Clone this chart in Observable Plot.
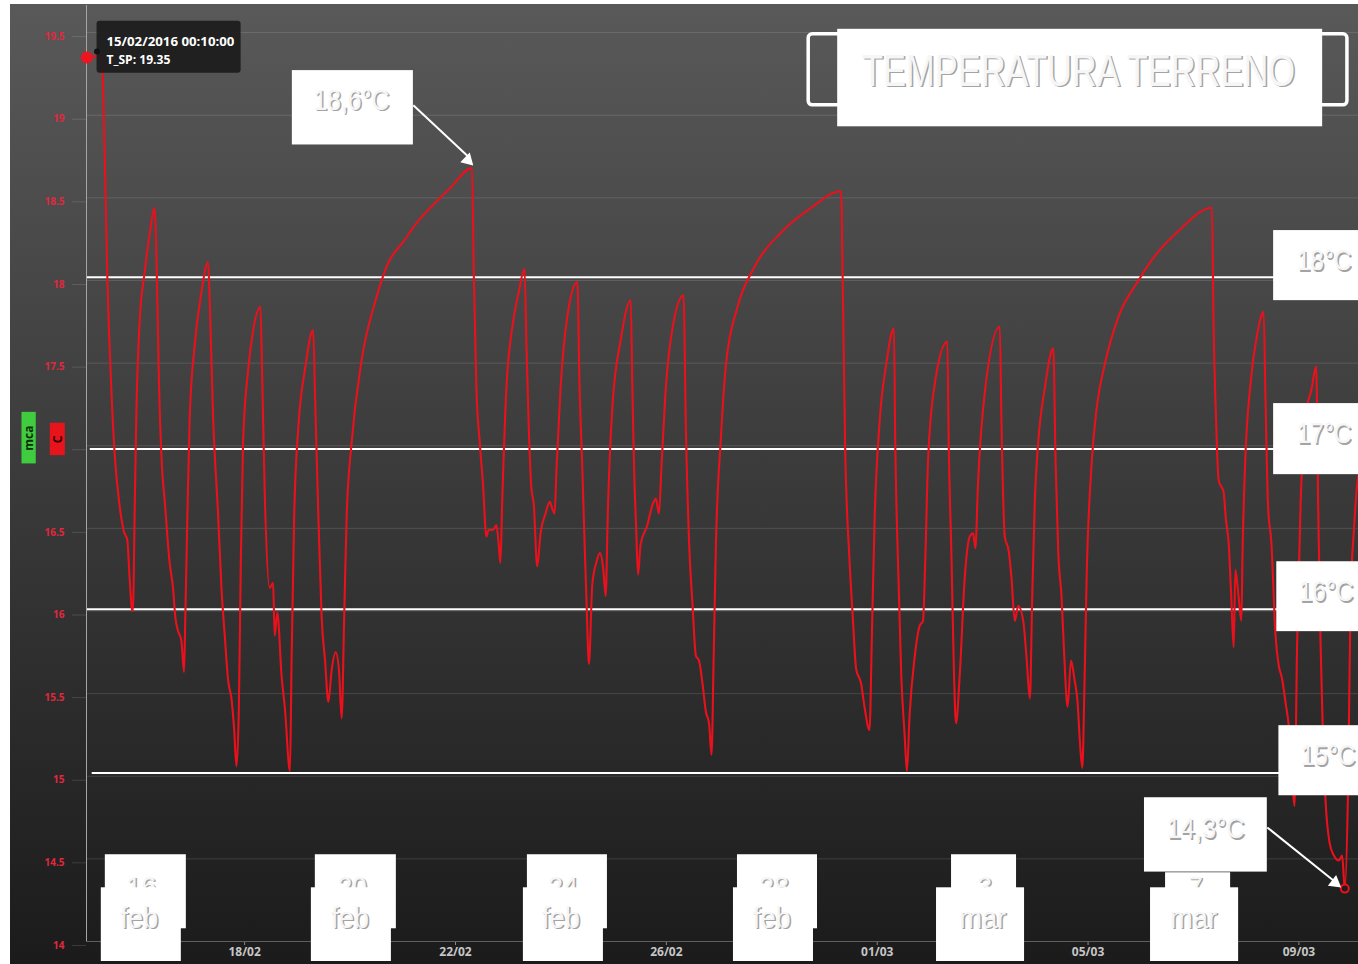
<!DOCTYPE html>
<html>
<head>
<meta charset="utf-8">
<script src="https://cdn.jsdelivr.net/npm/d3@7"></script>
<script src="https://cdn.jsdelivr.net/npm/@observablehq/plot@0.6"></script>
<style>
  body { margin: 0; background: #fff; }
  svg { display: block; }
</style>
</head>
<body>
<div id="chart"></div>
<script>
// ---------- data (day offset from 15/02/2016 00:00 UTC, °C) ----------
const startDate = "2016-02-15";
const endOffset = 24.13;
const readings = [
  [0.0069,19.35],[0.30,19.36],[0.31,19.22],[0.355,18.63],[0.393,18.05],[0.456,17.46],[0.532,16.96],
  [0.627,16.64],[0.71,16.48],[0.773,16.43],[0.818,16.20],[0.862,16.01],[0.88,16.00],[0.913,16.58],
  [0.944,17.17],[1.008,17.75],[1.103,18.05],[1.198,18.28],[1.293,18.44],[1.324,18.19],[1.369,17.46],
  [1.432,16.87],[1.483,16.67],[1.578,16.29],[1.641,16.14],[1.686,15.96],[1.736,15.88],[1.80,15.82],
  [1.85,15.63],[1.876,15.99],[1.914,16.58],[1.958,17.17],[2.053,17.61],[2.18,17.93],[2.307,18.11],
  [2.338,17.87],[2.402,17.17],[2.497,16.58],[2.56,16.14],[2.623,15.85],[2.687,15.58],[2.75,15.47],
  [2.80,15.29],[2.845,15.06],[2.89,15.41],[2.927,16.29],[2.97,17.02],[3.067,17.46],[3.162,17.70],
  [3.30,17.84],[3.33,17.46],[3.38,16.73],[3.475,16.14],[3.54,16.17],[3.57,15.85],[3.62,15.99],
  [3.70,15.61],[3.764,15.41],[3.86,15.03],[3.89,15.70],[3.94,16.58],[4.018,17.11],[4.144,17.46],
  [4.30,17.70],[4.335,17.31],[4.398,16.58],[4.461,15.96],[4.525,15.70],[4.588,15.45],[4.65,15.64],
  [4.727,15.75],[4.79,15.64],[4.84,15.35],[4.89,15.99],[4.936,16.58],[5.03,17.02],[5.22,17.52],
  [5.475,17.87],[5.73,18.11],[6.0,18.23],[6.268,18.35],[6.585,18.46],[6.90,18.56],[7.313,18.68],
  [7.345,18.07],[7.396,17.35],[7.46,17.02],[7.523,16.76],[7.586,16.45],[7.63,16.49],[7.713,16.49],
  [7.776,16.52],[7.82,16.40],[7.852,16.29],[7.884,16.64],[7.966,17.35],[8.074,17.71],[8.20,17.93],
  [8.31,18.07],[8.347,17.59],[8.39,17.11],[8.435,16.76],[8.486,16.64],[8.55,16.27],[8.613,16.47],
  [8.708,16.59],[8.79,16.66],[8.835,16.62],[8.88,16.59],[8.917,16.87],[8.993,17.35],[9.12,17.78],
  [9.31,17.99],[9.354,17.35],[9.405,16.87],[9.45,16.40],[9.487,16.04],[9.531,15.68],[9.595,16.16],
  [9.677,16.30],[9.74,16.35],[9.804,16.25],[9.848,16.09],[9.893,16.64],[9.975,17.23],[10.134,17.64],
  [10.324,17.88],[10.355,17.35],[10.387,16.87],[10.425,16.52],[10.463,16.22],[10.51,16.40],[10.64,16.52],
  [10.735,16.64],[10.80,16.68],[10.86,16.59],[10.907,16.87],[10.99,17.35],[11.116,17.71],[11.325,17.91],
  [11.37,17.11],[11.433,16.40],[11.496,16.04],[11.56,15.73],[11.62,15.70],[11.686,15.56],[11.75,15.39],
  [11.81,15.32],[11.857,15.13],[11.895,15.68],[11.94,16.40],[12.035,17.05],[12.13,17.49],[12.35,17.84],
  [12.668,18.08],[13.175,18.29],[13.745,18.44],[14.315,18.54],[14.347,17.96],[14.39,17.02],[14.474,16.31],
  [14.537,15.96],[14.60,15.65],[14.695,15.56],[14.759,15.42],[14.854,15.28],[14.898,15.84],[14.95,16.55],
  [15.044,17.14],[15.17,17.49],[15.317,17.71],[15.342,17.02],[15.393,16.31],[15.456,15.61],[15.52,15.25],
  [15.564,15.03],[15.614,15.37],[15.71,15.72],[15.805,15.91],[15.868,15.94],[15.912,16.31],[15.963,16.90],
  [16.09,17.37],[16.33,17.63],[16.356,17.02],[16.41,16.31],[16.457,15.61],[16.495,15.32],[16.565,15.61],
  [16.66,16.20],[16.755,16.45],[16.82,16.47],[16.862,16.38],[16.913,16.78],[17.04,17.32],[17.325,17.72],
  [17.357,17.14],[17.42,16.45],[17.496,16.36],[17.547,16.20],[17.61,15.94],[17.674,16.03],[17.77,15.94],
  [17.832,15.72],[17.896,15.47],[17.94,16.08],[17.99,16.67],[18.054,17.02],[18.18,17.35],[18.34,17.59],
  [18.384,16.90],[18.435,16.35],[18.498,16.08],[18.549,15.72],[18.612,15.42],[18.676,15.70],[18.74,15.59],
  [18.80,15.45],[18.847,15.20],[18.891,15.05],[18.93,15.53],[18.974,16.22],[19.069,16.90],[19.164,17.23],
  [19.322,17.50],[19.575,17.78],[19.956,18.00],[20.27,18.15],[20.716,18.30],[21.35,18.44],[21.381,17.72],
  [21.426,17.18],[21.477,16.79],[21.57,16.72],[21.616,16.55],[21.667,16.41],[21.717,16.08],[21.762,15.78],
  [21.794,16.25],[21.857,16.08],[21.908,15.94],[21.93,16.35],[21.98,16.90],[22.08,17.37],[22.205,17.67],
  [22.33,17.81],[22.364,17.31],[22.415,16.63],[22.478,16.41],[22.554,15.86],[22.617,15.67],[22.68,15.59],
  [22.744,15.45],[22.82,15.26],[22.87,14.99],[22.915,14.82],[22.966,15.81],[23.03,16.63],[23.124,17.18],
  [23.238,17.34],[23.327,17.48],[23.365,16.63],[23.41,15.81],[23.454,15.26],[23.505,14.85],[23.58,14.60],
  [23.663,14.52],[23.758,14.49],[23.82,14.52],[23.87,14.32],[23.935,14.99],[23.98,16.08],[24.043,16.49],
  [24.107,16.77],[24.13,16.82]
];
const seriesName = "T_SP";
const yTicks = [14, 14.5, 15, 15.5, 16, 16.5, 17, 17.5, 18, 18.5, 19, 19.5];
const xTicks = ["2016-02-18", "2016-02-22", "2016-02-26", "2016-03-01", "2016-03-05", "2016-03-09"];

// threshold guide lines and their labels
const thresholdLabels = ["18°C", "17°C", "16°C", "15°C"];
const thresholdLevels = [18.02, 16.98, 16.01, 15.02];
const thresholdStart = [0.017, 0.072, 0.017, 0.108];

// overlay date labels
const overlayDates = ["2016-02-16", "2016-02-20", "2016-02-24", "2016-02-28", "2016-03-03", "2016-03-07"];
const overlayDay = ["16", "20", "24", "28", "3", "7"];
const overlayMonth = ["feb", "feb", "feb", "feb", "mar", "mar"];

// callouts
const titleText = "TEMPERATURA TERRENO";
const maxLabel = "18,6°C";
const minLabel = "14,3°C";

// ---------- annotation placement (day offset, °C) ----------
const titleOutline = [13.70, 23.92, 19.06, 19.49];
const whiteBoxes = [
  [14.25, 23.45, 18.93, 19.52],   // title
  [3.905, 6.201, 18.82, 19.27],   // 18,6
  [20.07, 22.40, 14.42, 14.87],   // 14,3
  [22.52, endOffset, 17.878, 18.302],
  [22.52, endOffset, 16.825, 17.255],
  [22.58, endOffset, 15.875, 16.298],
  [22.62, endOffset, 14.882, 15.306]
];
const upperDateBoxes = [
  [0.357, 1.894, 14.077, 14.525], [4.341, 5.878, 14.077, 14.525], [8.364, 9.882, 14.077, 14.525],
  [12.349, 13.867, 14.077, 14.525], [16.410, 17.643, 14.077, 14.525], [20.470, 21.704, 14.077, 14.416]
];
const lowerDateBoxes = [
  [0.281, 1.799], [4.266, 5.784], [8.288, 9.806], [12.273, 13.791], [16.125, 17.795], [20.185, 21.856]
];
const lowerBoxRange = [13.879, 14.325];
const titlePos = [18.82, 19.178];
const maxLabelPos = [5.025, 19.034];
const minLabelPos = [21.23, 14.626];
const thresholdTextPos = [[23.478, 18.064], [23.478, 17.017], [23.516, 16.060], [23.554, 15.068]];
const dayTextDy = 0.04, dayTextV = 14.271, monthTextV = 14.083;
const arrows = [[6.20, 19.06, 7.24, 18.75], [22.40, 14.69, 23.69, 14.36]];
const arrowHeads = [[7.30, 18.707, 135], [23.76, 14.337, 128]];
const tooltipBox = [0.20, 2.933, 19.254, 19.569];
const tooltipText = [0.378, 19.416, 19.31];
const tooltipPointer = [0.199, 19.385];
const unitBoxes = [
  {label: "mca", x1: -1.224, x2: -0.953, y1: 16.890, y2: 17.202, fill: "#3fcc3f", ink: "#0d2a0d"},
  {label: "C", x1: -0.687, x2: -0.402, y1: 16.940, y2: 17.136, fill: "#e8141c", ink: "#2a0000"}
];

// ---------- build ----------
const DAY = 864e5;
const t0 = new Date(startDate).getTime();
const at = d => new Date(t0 + d * DAY);
const series = readings.map(([d, v]) => ({date: at(d), temp: v}));
const first = series[0];
const lowest = d3.least(series, d => d.temp);

const LABEL_FONT = "'Liberation Sans', Arial, Helvetica, sans-serif";
function emboss(data, opts) {
  return [
    Plot.text(data, {...opts, fill: "#a3a3a3", dx: 1.5, dy: 1.6}),
    Plot.text(data, {...opts, fill: "#f6f6f6"})
  ];
}
const rectOf = a => ({x1: at(a[0]), x2: at(a[1]), y1: a[2], y2: a[3]});
// filled arrow head whose point sits on the target (triangle centroid pulled back along its heading)
function arrowHead(h) {
  const a = (h[2] - 90) * Math.PI / 180, back = 5;
  return Plot.dot([h], {x: d => at(d[0]), y: d => d[1], rotate: h[2], symbol: "triangle", r: 5, fill: "#ffffff",
    dx: -back * Math.cos(a), dy: -back * Math.sin(a)});
}

const plot = Plot.plot({
  width: 1358,
  height: 964,
  marginLeft: 86,
  marginRight: 0,
  marginTop: 5,
  marginBottom: 23,
  x: {type: "utc", domain: [at(0), at(endOffset)]},
  y: {domain: [14, 19.664]},
  style: "background: linear-gradient(#595959, #1b1b1b) 10px 4px / 1348px 960px no-repeat, #ffffff;",
  marks: [
    Plot.gridY(yTicks, {stroke: "#ffffff", strokeOpacity: 0.13}),
    Plot.axisY(yTicks, {tickSize: 14, tickPadding: 8, tickFormat: d => String(d),
      stroke: "#ffffff", strokeOpacity: 0.13, fill: "#e0283e", fontSize: 10, fontWeight: "bold",
      fontFamily: "'Open Sans', sans-serif", dy: 4, label: null}),
    Plot.axisX(xTicks.map(s => new Date(s)), {tickFormat: d3.utcFormat("%d/%m"), tickSize: 4, tickPadding: 2,
      stroke: "#8a8a8a", fill: "#c6c6c6", fontSize: 12, fontWeight: "bold",
      fontFamily: "'Open Sans', sans-serif", label: null}),
    Plot.ruleY([14], {stroke: "#5e5e5e"}),
    Plot.ruleX([at(0)], {stroke: "#a5a5a5"}),
    // threshold lines
    Plot.ruleY(thresholdLevels, {y: d => d, x1: (d, i) => at(thresholdStart[i]), x2: at(endOffset),
      stroke: "#ffffff", strokeWidth: 2}),
    // series
    Plot.line(series, {x: "date", y: "temp", stroke: "#ea111c", strokeWidth: 2.1, curve: "monotone-x", strokeLinejoin: "round"}),
    Plot.dot([lowest], {x: "date", y: "temp", r: 4, stroke: "#ea111c", strokeWidth: 2, fill: "#1d1d1d"}),
    // tooltip
    Plot.rect([rectOf(tooltipBox)], {x1: "x1", x2: "x2", y1: "y1", y2: "y2", fill: "#1c1c1c", fillOpacity: 0.93, rx: 3}),
    Plot.dot([first], {x: "date", y: "temp", r: 6, fill: "#ec1520"}),
    Plot.dot([tooltipPointer], {x: d => at(d[0]), y: d => d[1], r: 3, fill: "#111"}),
    Plot.text([d3.utcFormat("%d/%m/%Y %H:%M:%S")(d3.utcMinute.round(first.date)), `${seriesName}: ${first.temp}`], {
      x: at(tooltipText[0]), y: (d, i) => tooltipText[1 + i], text: d => d, textAnchor: "start", lineAnchor: "bottom",
      fill: "#ffffff", fontWeight: "bold", fontSize: 13, fontFamily: "'Open Sans', sans-serif"}),
    // unit boxes
    Plot.rect(unitBoxes, {x1: d => at(d.x1), x2: d => at(d.x2), y1: "y1", y2: "y2", fill: "fill"}),
    Plot.text(unitBoxes, {x: d => at((d.x1 + d.x2) / 2), y: d => (d.y1 + d.y2) / 2, text: "label", rotate: -90,
      fill: "ink", fontWeight: "bold", fontSize: 12, fontFamily: "'Open Sans', sans-serif"}),
    // title
    Plot.rect([rectOf(titleOutline)], {x1: "x1", x2: "x2", y1: "y1", y2: "y2", fill: "none", stroke: "#ffffff", strokeWidth: 3.5, rx: 4}),
    Plot.rect(whiteBoxes.map(rectOf), {x1: "x1", x2: "x2", y1: "y1", y2: "y2", fill: "#ffffff"}),
    ...emboss([titleText], {x: at(titlePos[0]), y: titlePos[1], text: d => d, lineAnchor: "bottom", fontSize: 45, fontFamily: LABEL_FONT}),
    ...emboss([maxLabel], {x: at(maxLabelPos[0]), y: maxLabelPos[1], text: d => d, lineAnchor: "bottom", fontSize: 30, fontFamily: LABEL_FONT}),
    ...emboss([minLabel], {x: at(minLabelPos[0]), y: minLabelPos[1], text: d => d, lineAnchor: "bottom", fontSize: 30, fontFamily: LABEL_FONT}),
    ...emboss(thresholdLabels, {x: (d, i) => at(thresholdTextPos[i][0]), y: (d, i) => thresholdTextPos[i][1], text: d => d,
      lineAnchor: "bottom", fontSize: 30, fontFamily: LABEL_FONT}),
    // arrows
    Plot.link(arrows, {x1: d => at(d[0]), y1: d => d[1], x2: d => at(d[2]), y2: d => d[3],
      stroke: "#ffffff", strokeWidth: 2}),
    ...arrowHeads.map(arrowHead),
    // date overlays
    Plot.rect(upperDateBoxes.map(rectOf), {x1: "x1", x2: "x2", y1: "y1", y2: "y2", fill: "#ffffff"}),
    ...emboss(overlayDay, {x: (d, i) => new Date(new Date(overlayDates[i]).getTime() + dayTextDy * DAY), y: dayTextV, text: d => d,
      lineAnchor: "bottom", fontSize: 30, fontFamily: LABEL_FONT}),
    Plot.rect(lowerDateBoxes, {x1: d => at(d[0]), x2: d => at(d[1]), y1: lowerBoxRange[0], y2: lowerBoxRange[1], fill: "#ffffff"}),
    ...emboss(overlayMonth, {x: (d, i) => new Date(overlayDates[i]), y: monthTextV, text: d => d,
      lineAnchor: "bottom", fontSize: 30, fontFamily: LABEL_FONT})
  ]
});

// condense the callout lettering to the widths seen in the picture
const widths = new Map([
  [titleText, 433], [maxLabel, 76], [minLabel, 78],
  ["18°C", 55], ["17°C", 55], ["16°C", 55], ["15°C", 55],
  ["16", 30], ["20", 29], ["24", 30], ["28", 30], ["3", 14.5], ["7", 14.5],
  ["feb", 38], ["mar", 47], ["T_SP: 19.35", 64]
]);
d3.select(plot).selectAll("text").each(function () {
  const g = this.parentNode;
  if (!g || g.getAttribute("aria-label") !== "text") return;
  const w = widths.get(this.textContent);
  if (w) { this.setAttribute("textLength", w); this.setAttribute("lengthAdjust", "spacingAndGlyphs"); }
  if (/^\d\d\/\d\d\/\d{4}/.test(this.textContent)) { this.setAttribute("textLength", 128); this.setAttribute("lengthAdjust", "spacingAndGlyphs"); }
});

document.getElementById("chart").appendChild(plot);
</script>
</body>
</html>
